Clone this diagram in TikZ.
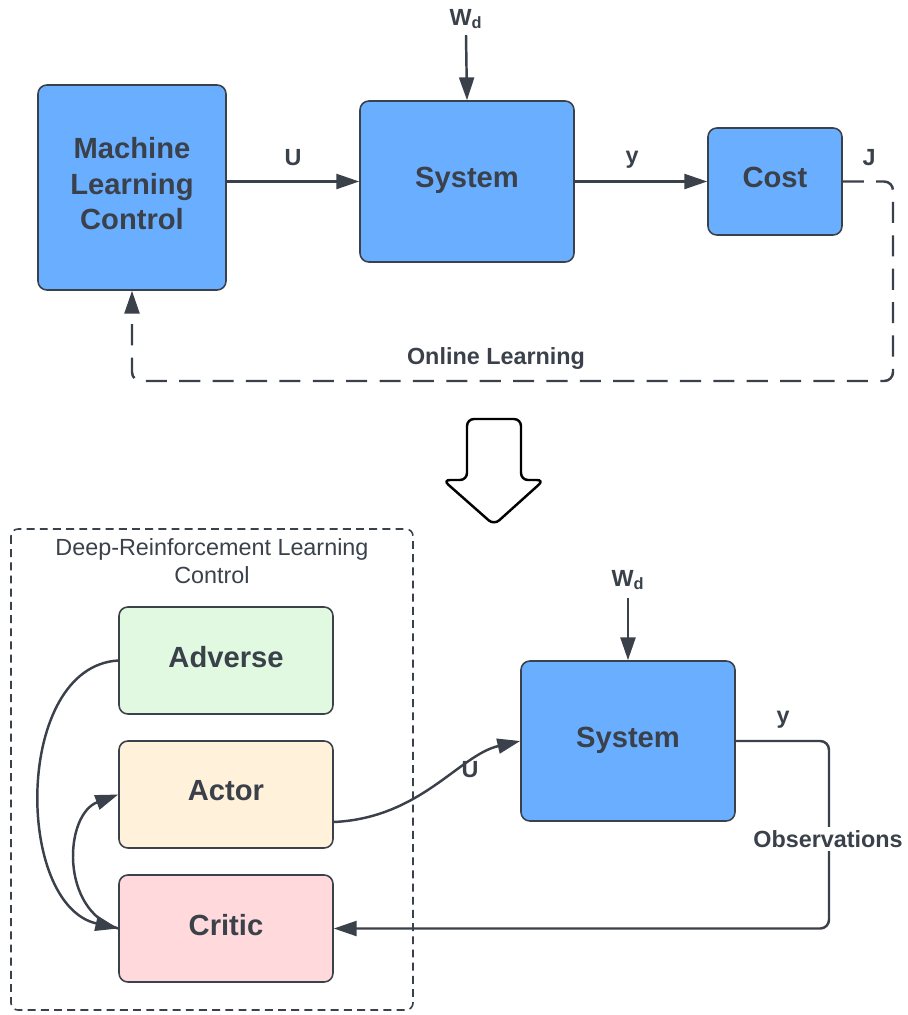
\documentclass[tikz,border=0pt]{standalone}
\usepackage{fontspec}
\setmainfont{Liberation Sans}
\usetikzlibrary{arrows.meta}
\definecolor{ink}{HTML}{3A414A}
\definecolor{sysblue}{HTML}{6AAEFF}
\definecolor{advgreen}{HTML}{E0F9E0}
\definecolor{actyellow}{HTML}{FFF1DA}
\definecolor{critred}{HTML}{FFD9DC}
\tikzset{
	blk/.style={draw=ink, line width=0.9pt, rounded corners=5pt, inner sep=0pt, align=center,
		text=ink, text depth=4.5pt, font=\fontsize{16.6}{20}\selectfont\bfseries},
	lbl/.style={text=ink, font=\fontsize{13.3}{16}\selectfont\bfseries},
	wire/.style={draw=ink, line width=1.4pt, -{Triangle[length=13pt,width=8.5pt]}},
	feedback/.style={wire, rounded corners=5pt, dash pattern=on 12pt off 7pt},
}
\begin{document}
\begin{tikzpicture}[x=0.02cm, y=-0.02cm]
\useasboundingbox (0,0) rectangle (907,1015);
% top loop
\node[blk, fill=sysblue, minimum width=3.76cm, minimum height=4.1cm] (mlc) at (132,187.5) {Machine\\Learning\\Control};
\node[blk, fill=sysblue, minimum width=4.28cm, minimum height=3.22cm] (sys) at (467,181.5) {System};
\node[blk, fill=sysblue, minimum width=2.68cm, minimum height=2.14cm] (cost) at (775,181.5) {Cost};
\node[lbl] (wd) at (466,19) {W\textsubscript{d}};
\coordinate (wdin) at (466,35);
\draw[wire] (wdin) -- (sys.north);
\draw[wire] (mlc.east |- sys.west) -- (sys.west);
\node[lbl] (ulbl) at (293,158) {U};
\draw[wire] (sys.east) -- (cost.west);
\node[lbl] (ylbl) at (632,160) {y};
\node[lbl] (jlbl) at (869,158) {J};
\draw[feedback] (cost.east) -- (893,181.5) -- (893,381) -- (132,381) -- (mlc.south);
\node[lbl] (online) at (496,359) {Online Learning};
% hollow arrow
\draw[line width=1.4pt, rounded corners=4pt, fill=white] (467,419) -- (521,419) -- (521,480) -- (544,480)
	-- (494,525) -- (443,480) -- (467,480) -- cycle;
% DRL control
\draw[ink, line width=0.9pt, rounded corners=4pt, dash pattern=on 4.5pt off 3pt] (11,529) rectangle (413,1010);
\node[text=ink, align=center, font=\fontsize{13.3}{15.9}\selectfont] (drl) at (212,561) {Deep-Reinforcement Learning\\Control};
\node[blk, fill=advgreen, minimum width=4.28cm, minimum height=2.14cm] (adverse) at (226,660.5) {Adverse};
\node[blk, fill=actyellow, minimum width=4.28cm, minimum height=2.14cm] (actor) at (226,794.5) {Actor};
\node[blk, fill=critred, minimum width=4.28cm, minimum height=2.14cm] (critic) at (226,928.5) {Critic};
\draw[wire] (adverse.west) .. controls +(-104,6) and +(-104,-24) .. (critic.west);
\draw[wire] (critic.west) .. controls +(-59,-18) and +(-54,20) .. (actor.west);
% bottom system
\node[blk, fill=sysblue, minimum width=4.28cm, minimum height=3.2cm] (sysb) at (628,741) {System};
\node[lbl] (wdb) at (628,580) {W\textsubscript{d}};
\coordinate (wdbin) at (628,598);
\draw[wire] (wdbin) -- (sysb.north);
\draw[wire] ([yshift=-0.55cm]actor.east) .. controls +(87,-4) and +(-61,14) .. (sysb.west);
\node[lbl] (ub) at (470,770) {U};
\draw[wire, rounded corners=5pt] (sysb.east) -- (829,741) -- (829,928.5) -- (critic.east);
\node[lbl] (ybl) at (783,720) {y};
\node[lbl, fill=white, inner sep=2pt] (obs) at (828,839) {Observations};
\end{tikzpicture}
\end{document}
